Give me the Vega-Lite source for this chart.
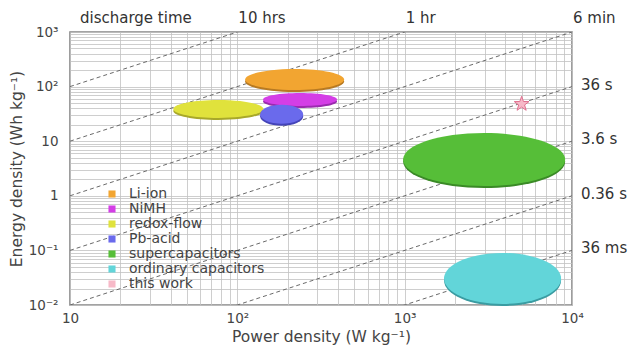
{
  "$schema": "https://vega.github.io/schema/vega-lite/v6.json",
  "width": 502,
  "height": 273,
  "autosize": {"type": "none"},
  "padding": {"left": 70, "top": 32, "right": 69, "bottom": 57},
  "background": "white",
  "config": {
    "font": "DejaVu Sans",
    "view": {"stroke": "#858585", "strokeWidth": 1.6},
    "axis": {
      "labelFont": "DejaVu Sans", "labelFontSize": 13.5, "labelColor": "#444",
      "titleFont": "DejaVu Sans", "titleFontSize": 15.5, "titleFontWeight": "normal", "titleColor": "#444",
      "gridColor": "#c2c2c2", "gridWidth": 0.8, "ticks": false, "domain": false,
      "labelOverlap": false, "labelFlush": false
    }
  },
  "layer": [
    {
      "data": {"values": [
        {"t": "10 h", "P": 10, "E": 100}, {"t": "10 h", "P": 10000, "E": 100000},
        {"t": "1 h", "P": 10, "E": 10}, {"t": "1 h", "P": 10000, "E": 10000},
        {"t": "0.1 h", "P": 10, "E": 1}, {"t": "0.1 h", "P": 10000, "E": 1000},
        {"t": "0.01 h", "P": 10, "E": 0.1}, {"t": "0.01 h", "P": 10000, "E": 100},
        {"t": "0.001 h", "P": 10, "E": 0.01}, {"t": "0.001 h", "P": 10000, "E": 10},
        {"t": "0.0001 h", "P": 10, "E": 0.001}, {"t": "0.0001 h", "P": 10000, "E": 1},
        {"t": "0.00001 h", "P": 10, "E": 0.0001}, {"t": "0.00001 h", "P": 10000, "E": 0.1}
      ]},
      "mark": {"type": "line", "clip": true, "color": "#6a6a6a", "strokeWidth": 1, "strokeDash": [4, 3]},
      "encoding": {
        "x": {
          "field": "P", "type": "quantitative",
          "scale": {"type": "log", "domain": [10, 10000]},
          "axis": {
            "title": "Power density (W kg⁻¹)",
            "values": [10, 20, 30, 40, 50, 60, 70, 80, 90, 100, 200, 300, 400, 500, 600, 700, 800, 900, 1000, 2000, 3000, 4000, 5000, 6000, 7000, 8000, 9000, 10000],
            "labelExpr": "datum.value == 10 ? '10' : datum.value == 100 ? '10²' : datum.value == 1000 ? '10³' : datum.value == 10000 ? '10⁴' : ''",
            "labelPadding": 6, "titlePadding": 5
          }
        },
        "y": {
          "field": "E", "type": "quantitative",
          "scale": {"type": "log", "domain": [0.01, 1000]},
          "axis": {
            "title": "Energy density (Wh kg⁻¹)",
            "values": [0.01, 0.02, 0.03, 0.04, 0.05, 0.06, 0.07, 0.08, 0.09, 0.1, 0.2, 0.3, 0.4, 0.5, 0.6, 0.7, 0.8, 0.9, 1, 2, 3, 4, 5, 6, 7, 8, 9, 10, 20, 30, 40, 50, 60, 70, 80, 90, 100, 200, 300, 400, 500, 600, 700, 800, 900, 1000],
            "labelExpr": "datum.value == 0.01 ? '10⁻²' : datum.value == 0.1 ? '10⁻¹' : datum.value == 1 ? '1' : datum.value == 10 ? '10' : datum.value == 100 ? '10²' : datum.value == 1000 ? '10³' : ''",
            "labelPadding": 12, "titlePadding": 4
          }
        },
        "detail": {"field": "t", "type": "nominal"}
      }
    },
    {
      "data": {"values": [
        {"tech": "Li-ion", "P": 220, "E": 135},
        {"tech": "NiMH", "P": 237, "E": 58},
        {"tech": "redox-flow", "P": 77, "E": 39},
        {"tech": "Pb-acid", "P": 184, "E": 31},
        {"tech": "supercapacitors", "P": 2985, "E": 4.6},
        {"tech": "ordinary capacitors", "P": 3846, "E": 0.0306}
      ]},
      "mark": {"type": "point", "filled": true, "opacity": 1, "yOffset": 2},
      "encoding": {
        "x": {"field": "P", "type": "quantitative"},
        "y": {"field": "E", "type": "quantitative"},
        "size": {"value": 4},
        "shape": {
          "field": "tech", "type": "nominal", "legend": null,
          "scale": {
            "domain": ["Li-ion", "NiMH", "redox-flow", "Pb-acid", "supercapacitors", "ordinary capacitors"],
            "range": [
              "M -49.5 0 C -49.5 -5.8 -27.34 -10.5 0 -10.5 C 27.34 -10.5 49.5 -5.8 49.5 0 C 49.5 5.8 27.34 10.5 0 10.5 C -27.34 10.5 -49.5 5.8 -49.5 0 Z",
              "M -37 0 C -37 -3.59 -20.44 -6.5 0 -6.5 C 20.44 -6.5 37 -3.59 37 0 C 37 3.59 20.44 6.5 0 6.5 C -20.44 6.5 -37 3.59 -37 0 Z",
              "M -45 0 C -45 -4.97 -24.85 -9 0 -9 C 24.85 -9 45 -4.97 45 0 C 45 4.97 24.85 9 0 9 C -24.85 9 -45 4.97 -45 0 Z",
              "M -21.5 0 C -21.5 -5.25 -11.87 -9.5 0 -9.5 C 11.87 -9.5 21.5 -5.25 21.5 0 C 21.5 5.25 11.87 9.5 0 9.5 C -11.87 9.5 -21.5 5.25 -21.5 0 Z",
              "M -81 0 C -81 -14.64 -44.74 -26.5 0 -26.5 C 44.74 -26.5 81 -14.64 81 0 C 81 14.64 44.74 26.5 0 26.5 C -44.74 26.5 -81 14.64 -81 0 Z",
              "M -58.5 0 C -58.5 -14.08 -32.31 -25.5 0 -25.5 C 32.31 -25.5 58.5 -14.08 58.5 0 C 58.5 14.08 32.31 25.5 0 25.5 C -32.31 25.5 -58.5 14.08 -58.5 0 Z"
            ]
          }
        },
        "fill": {
          "field": "tech", "type": "nominal", "legend": null,
          "scale": {
            "domain": ["Li-ion", "NiMH", "redox-flow", "Pb-acid", "supercapacitors", "ordinary capacitors"],
            "range": ["#B87A22", "#9A2AAE", "#A8A82A", "#4444B8", "#3A8A26", "#3A9CA2"]
          }
        }
      }
    },
    {
      "data": {"values": [
        {"tech": "Li-ion", "P": 220, "E": 135},
        {"tech": "NiMH", "P": 237, "E": 58},
        {"tech": "redox-flow", "P": 77, "E": 39},
        {"tech": "Pb-acid", "P": 184, "E": 31},
        {"tech": "supercapacitors", "P": 2985, "E": 4.6},
        {"tech": "ordinary capacitors", "P": 3846, "E": 0.0306}
      ]},
      "mark": {"type": "point", "filled": true, "opacity": 1},
      "encoding": {
        "x": {"field": "P", "type": "quantitative"},
        "y": {"field": "E", "type": "quantitative"},
        "size": {"value": 4},
        "shape": {
          "field": "tech", "type": "nominal", "legend": null,
          "scale": {
            "domain": ["Li-ion", "NiMH", "redox-flow", "Pb-acid", "supercapacitors", "ordinary capacitors"],
            "range": [
              "M -49.5 0 C -49.5 -5.8 -27.34 -10.5 0 -10.5 C 27.34 -10.5 49.5 -5.8 49.5 0 C 49.5 5.8 27.34 10.5 0 10.5 C -27.34 10.5 -49.5 5.8 -49.5 0 Z",
              "M -37 0 C -37 -3.59 -20.44 -6.5 0 -6.5 C 20.44 -6.5 37 -3.59 37 0 C 37 3.59 20.44 6.5 0 6.5 C -20.44 6.5 -37 3.59 -37 0 Z",
              "M -45 0 C -45 -4.97 -24.85 -9 0 -9 C 24.85 -9 45 -4.97 45 0 C 45 4.97 24.85 9 0 9 C -24.85 9 -45 4.97 -45 0 Z",
              "M -21.5 0 C -21.5 -5.25 -11.87 -9.5 0 -9.5 C 11.87 -9.5 21.5 -5.25 21.5 0 C 21.5 5.25 11.87 9.5 0 9.5 C -11.87 9.5 -21.5 5.25 -21.5 0 Z",
              "M -81 0 C -81 -14.64 -44.74 -26.5 0 -26.5 C 44.74 -26.5 81 -14.64 81 0 C 81 14.64 44.74 26.5 0 26.5 C -44.74 26.5 -81 14.64 -81 0 Z",
              "M -58.5 0 C -58.5 -14.08 -32.31 -25.5 0 -25.5 C 32.31 -25.5 58.5 -14.08 58.5 0 C 58.5 14.08 32.31 25.5 0 25.5 C -32.31 25.5 -58.5 14.08 -58.5 0 Z"
            ]
          }
        },
        "color": {
          "field": "tech", "type": "nominal",
          "scale": {
            "domain": ["Li-ion", "NiMH", "redox-flow", "Pb-acid", "supercapacitors", "ordinary capacitors", "this work"],
            "range": ["#F2A531", "#D43EE6", "#E0E23C", "#6A6AEC", "#56BE38", "#62D5D9", "#F7B9C8"]
          },
          "legend": {
            "orient": "none", "legendX": 35, "legendY": 155, "title": null,
            "symbolSize": 50, "symbolType": "square", "padding": 0,
            "labelFont": "DejaVu Sans", "labelFontSize": 14, "labelColor": "#444",
            "rowPadding": 1, "labelOffset": 10,
            "encode": {
              "symbols": {
                "shape": {"condition": {"test": "datum.value === 'this work'", "value": "M 0 -1 L 0.2351 -0.3236 L 0.9511 -0.309 L 0.3804 0.1236 L 0.5878 0.809 L 0 0.4 L -0.5878 0.809 L -0.3804 0.1236 L -0.9511 -0.309 L -0.2351 -0.3236 Z"}, "value": "square"},
                "size": {"condition": {"test": "datum.value === 'this work'", "value": 220}, "value": 50},
                "stroke": {"condition": {"test": "datum.value === 'this work'", "value": "#E0708F"}, "value": "transparent"},
                "strokeWidth": {"value": 1}
              }
            }
          }
        }
      }
    },
    {
      "data": {"values": [{"tech": "this work", "P": 5000, "E": 48}]},
      "mark": {"type": "point", "filled": true, "opacity": 1, "shape": "M 0 -1 L 0.2351 -0.3236 L 0.9511 -0.309 L 0.3804 0.1236 L 0.5878 0.809 L 0 0.4 L -0.5878 0.809 L -0.3804 0.1236 L -0.9511 -0.309 L -0.2351 -0.3236 Z", "stroke": "#E0708F", "strokeWidth": 1},
      "encoding": {
        "x": {"field": "P", "type": "quantitative"},
        "y": {"field": "E", "type": "quantitative"},
        "size": {"value": 240},
        "color": {
          "field": "tech", "type": "nominal", "legend": null,
          "scale": {
            "domain": ["Li-ion", "NiMH", "redox-flow", "Pb-acid", "supercapacitors", "ordinary capacitors", "this work"],
            "range": ["#F2A531", "#D43EE6", "#E0E23C", "#6A6AEC", "#56BE38", "#62D5D9", "#F7B9C8"]
          }
        }
      }
    },
    {
      "data": {"values": [
        {"label": "10 hrs", "P": 100, "E": 1000},
        {"label": "1 hr", "P": 1000, "E": 1000},
        {"label": "6 min", "P": 10000, "E": 1000}
      ]},
      "mark": {"type": "text", "align": "left", "baseline": "middle", "dx": 1, "dy": -14, "fontSize": 15, "color": "#333"},
      "encoding": {
        "x": {"field": "P", "type": "quantitative"},
        "y": {"field": "E", "type": "quantitative"},
        "text": {"field": "label", "type": "nominal"}
      }
    },
    {
      "data": {"values": [{"label": "discharge time", "P": 10, "E": 1000}]},
      "mark": {"type": "text", "align": "left", "baseline": "middle", "dx": 10, "dy": -14, "fontSize": 15, "color": "#333"},
      "encoding": {
        "x": {"field": "P", "type": "quantitative"},
        "y": {"field": "E", "type": "quantitative"},
        "text": {"field": "label", "type": "nominal"}
      }
    },
    {
      "data": {"values": [
        {"label": "36 s", "P": 10000, "E": 100},
        {"label": "3.6 s", "P": 10000, "E": 10},
        {"label": "0.36 s", "P": 10000, "E": 1},
        {"label": "36 ms", "P": 10000, "E": 0.1}
      ]},
      "mark": {"type": "text", "align": "left", "baseline": "middle", "dx": 9, "dy": -2, "fontSize": 15, "color": "#333"},
      "encoding": {
        "x": {"field": "P", "type": "quantitative"},
        "y": {"field": "E", "type": "quantitative"},
        "text": {"field": "label", "type": "nominal"}
      }
    }
  ]
}
